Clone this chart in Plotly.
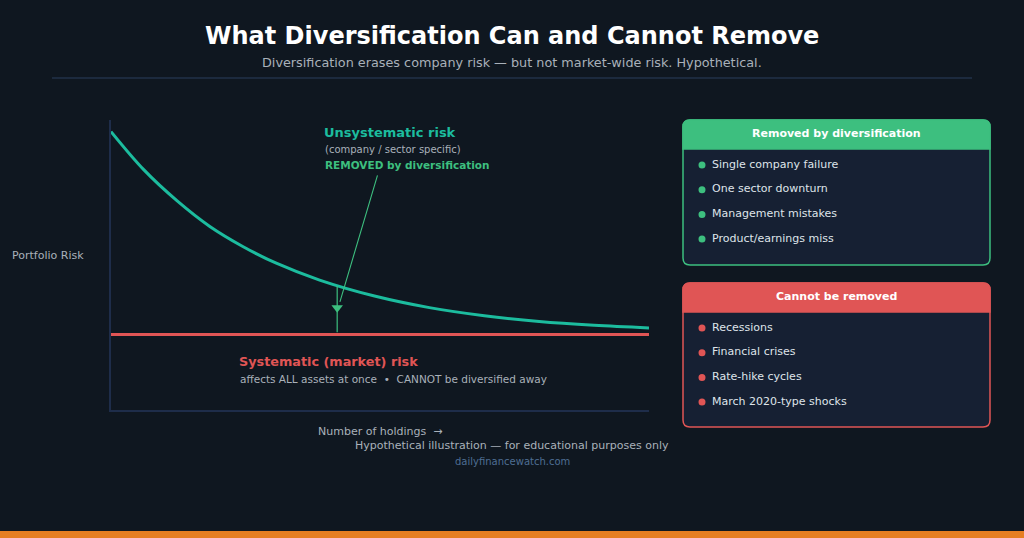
import plotly.graph_objects as go

# ---- data ----
holdings = [1, 4, 7, 10, 13, 16, 20, 25, 30, 35, 40, 45, 50]
total_risk = [96, 82.8, 72.2, 63.3, 56.4, 50.7, 44.8, 39.3, 35.3, 32.5, 30.5, 29.2, 28.3]
systematic_level = 26
systematic_risk = [systematic_level] * len(holdings)
removed_items = ["Single company failure", "One sector downturn", "Management mistakes", "Product/earnings miss"]
kept_items = ["Recessions", "Financial crises", "Rate-hike cycles", "March 2020-type shocks"]
gap_holdings = 21.6
gap_top = 42.8
arrow_tip = 35.3

BG = "#0f1720"
TEAL = "#1cbc9e"
GREEN = "#3dbf7f"
RED = "#e05555"
PANEL = "#162033"
GRAY = "#a9b1ba"
AXIS = "#1e2d4a"
FONT = "DejaVu Sans"

# plot area in pixels
L, R, T, B = 111, 649, 120, 410
W, H = 1024, 538


def X(px):
    return (px - L) / (R - L)


def Y(py):
    return (B - py) / (B - T)


fig = go.Figure()
fig.add_trace(go.Scatter(x=holdings, y=systematic_risk, mode="lines",
                         line=dict(color=RED, width=3), hoverinfo="skip"))
fig.add_trace(go.Scatter(x=holdings, y=total_risk, mode="lines",
                         line=dict(color=TEAL, width=3, shape="spline", smoothing=1.0),
                         hoverinfo="skip"))
# arrowhead marker
fig.add_trace(go.Scatter(x=[gap_holdings], y=[arrow_tip], mode="markers",
                         marker=dict(symbol="triangle-down", size=10, color=GREEN, line=dict(width=0)),
                         hoverinfo="skip"))

shapes = []
annotations = []


def txt(px, py, text, size, color, bold=False, anchor="left"):
    if bold:
        text = "<b>" + text + "</b>"
    annotations.append(dict(x=X(px), y=Y(py), xref="paper", yref="paper", text=text,
                            showarrow=False, xanchor=anchor, yanchor="middle",
                            font=dict(family=FONT, size=size, color=color)))


def rrect_path(x0, y0, x1, y1, r, bottom_round=True):
    p = []
    p.append(f"M{X(x0)},{Y(y0 + r)}")
    p.append(f"Q{X(x0)},{Y(y0)} {X(x0 + r)},{Y(y0)}")
    p.append(f"L{X(x1 - r)},{Y(y0)}")
    p.append(f"Q{X(x1)},{Y(y0)} {X(x1)},{Y(y0 + r)}")
    if bottom_round:
        p.append(f"L{X(x1)},{Y(y1 - r)}")
        p.append(f"Q{X(x1)},{Y(y1)} {X(x1 - r)},{Y(y1)}")
        p.append(f"L{X(x0 + r)},{Y(y1)}")
        p.append(f"Q{X(x0)},{Y(y1)} {X(x0)},{Y(y1 - r)}")
    else:
        p.append(f"L{X(x1)},{Y(y1)}")
        p.append(f"L{X(x0)},{Y(y1)}")
    p.append("Z")
    return " ".join(p)


# title / subtitle / divider
txt(512, 36, "What Diversification Can and Cannot Remove", 24, "#ffffff", bold=True, anchor="center")
txt(512, 62, "Diversification erases company risk — but not market-wide risk. Hypothetical.", 12.8, GRAY, anchor="center")
shapes.append(dict(type="line", xref="paper", yref="paper", x0=X(52), x1=X(972), y0=Y(78), y1=Y(78),
                   line=dict(color="#1c2a3e", width=2)))

# axis titles
txt(10, 255, "Portfolio Risk", 11, GRAY)
txt(380, 431, "Number of holdings  →", 11, GRAY, anchor="center")
txt(512, 445, "Hypothetical illustration — for educational purposes only", 11, GRAY, anchor="center")
txt(512, 461, "dailyfinancewatch.com", 10, "#4e6e93", anchor="center")

# chart labels
txt(322, 132, "Unsystematic risk", 13, TEAL, bold=True)
txt(323, 149, "(company / sector specific)", 10, GRAY)
txt(323, 165, "REMOVED by diversification", 10.5, GREEN, bold=True)
txt(237, 361, "Systematic (market) risk", 12.8, RED, bold=True)
txt(238, 379, "affects ALL assets at once  •  CANNOT be diversified away", 10.5, GRAY)

# gap marker and arrow line
shapes.append(dict(type="line", xref="x", yref="y", x0=gap_holdings, x1=gap_holdings,
                   y0=systematic_level + 0.8, y1=gap_top, line=dict(color=GREEN, width=1.2)))
annotations.append(dict(x=gap_holdings + 0.25, y=arrow_tip + 2.0, xref="x", yref="y", ax=38, ay=-128,
                        axref="pixel", ayref="pixel", showarrow=True, arrowhead=0,
                        arrowwidth=1.1, arrowcolor=GREEN, text=""))

# panels
def panel(y0, y1, color, title, items):
    x0, x1 = 683, 990
    shapes.append(dict(type="path", xref="paper", yref="paper", path=rrect_path(x0, y0, x1, y1, 7),
                       fillcolor=PANEL, line=dict(color=color, width=1.5), layer="below"))
    shapes.append(dict(type="path", xref="paper", yref="paper", path=rrect_path(x0, y0, x1, y0 + 29, 7, bottom_round=False),
                       fillcolor=color, line=dict(color=color, width=1.5), layer="below"))
    txt((x0 + x1) / 2, y0 + 13, title, 11, "#ffffff", bold=True, anchor="center")
    for i, it in enumerate(items):
        cy = y0 + 44 + i * 24.7
        shapes.append(dict(type="circle", xref="paper", yref="paper",
                           x0=X(698.5), x1=X(705.5), y0=Y(cy - 3.5 + 1), y1=Y(cy + 3.5 + 1),
                           fillcolor=color, line=dict(width=0)))
        txt(710, cy, it, 11, "#dfe4ea")


panel(120, 265, GREEN, "Removed by diversification", removed_items)
panel(283, 427, RED, "Cannot be removed", kept_items)

# bottom orange bar
shapes.append(dict(type="rect", xref="paper", yref="paper", x0=X(0), x1=X(W), y0=Y(531), y1=Y(540),
                   fillcolor="#e67e22", line=dict(width=0)))

fig.update_layout(
    width=W, height=H,
    margin=dict(l=L, r=W - R, t=T, b=H - B, pad=0),
    paper_bgcolor=BG, plot_bgcolor=BG,
    showlegend=False,
    shapes=shapes, annotations=annotations,
    xaxis=dict(range=[1, 50], showgrid=False, zeroline=False, showticklabels=False, ticks="",
               showline=True, linecolor=AXIS, linewidth=2, fixedrange=True),
    yaxis=dict(range=[0, 100], showgrid=False, zeroline=False, showticklabels=False, ticks="",
               showline=True, linecolor=AXIS, linewidth=2, fixedrange=True),
    font=dict(family=FONT),
)

fig.write_html("out.html", config={"displayModeBar": False},
               post_script="document.body.style.margin='0';document.body.style.background='" + BG + "';")
